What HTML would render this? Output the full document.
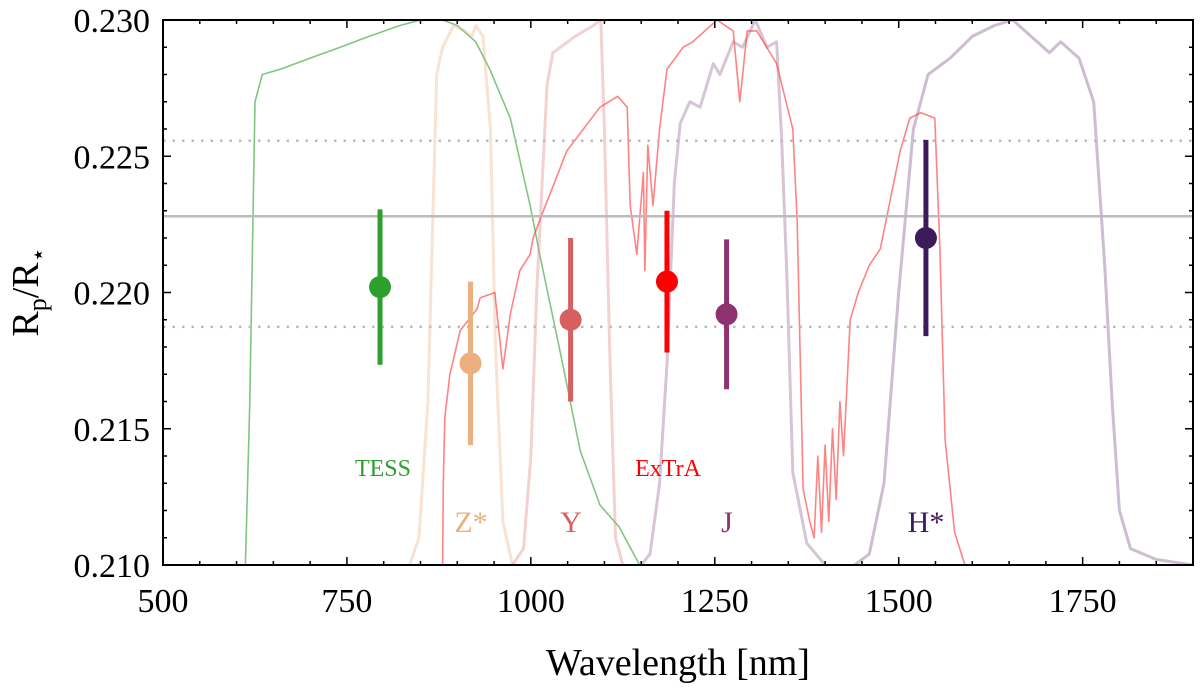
<!DOCTYPE html>
<html><head><meta charset="utf-8"><style>
body{margin:0;background:#fff}
svg{display:block;font-family:"Liberation Serif",serif}
</style></head><body>
<svg id="c" width="1200" height="695"></svg>
<script>
const bandNames=["TESS","Z*","Y","ExTrA","J","H*"];
const bandWl=[795,918,1054,1185,1266,1537];
const bandRp=[0.2202,0.2174,0.2190,0.2204,0.2192,0.2220];
const bandErr=[0.00285,0.0030,0.0030,0.0026,0.00275,0.0036];
const bandColors=["#2ca02c","#ebb07e","#d65f5f","#ff0000","#8e3370","#3d1a5c"];
const refLine=[0.2228];
const refBand=[0.21874,0.22557];
const xTicks=[500,750,1000,1250,1500,1750];
const yTicks=[0.210,0.215,0.220,0.225,0.230];
const tessWl=[612,618,625,635,660,700,741,780,822,850,880,900,925,944,972,999,1012,1040,1067,1094,1120,1148];
const tessT=[0,0.3,0.85,0.9,0.91,0.93,0.95,0.97,0.99,1.0,1.0,0.99,0.96,0.91,0.82,0.66,0.57,0.39,0.21,0.11,0.07,0.0];
const zWl=[835,848,860,872,880,895,910,920,925,935,945,952,962,975];
const zT=[0,0.05,0.3,0.9,0.95,0.99,0.98,0.97,0.99,0.97,0.8,0.4,0.08,0];
const yWl=[975,990,1000,1008,1022,1030,1040,1060,1085,1095,1100,1107,1115,1125];
const yT=[0,0.03,0.2,0.5,0.88,0.94,0.95,0.97,0.99,1,0.8,0.4,0.05,0];
const jWl=[1150,1162,1175,1185,1195,1203,1216,1230,1248,1257,1275,1288,1305,1321,1334,1341,1348,1356,1375,1400];
const jT=[0,0.02,0.15,0.37,0.7,0.81,0.85,0.84,0.92,0.9,0.96,0.95,1.0,0.95,0.96,0.78,0.53,0.17,0.04,0];
const hWl=[1440,1460,1480,1500,1520,1540,1570,1600,1630,1655,1680,1705,1720,1745,1765,1780,1790,1800,1815,1850,1900];
const hT=[0,0.02,0.15,0.5,0.8,0.9,0.93,0.97,0.99,1.0,0.97,0.94,0.96,0.93,0.85,0.55,0.3,0.1,0.03,0.01,0];
const exWl=[880,881,883,890,904,927,931,951,962,972,985,999,1003,1017,1049,1094,1118,1131,1135,1144,1153,1155,1159,1166,1175,1185,1207,1220,1253,1275,1284,1294,1307,1334,1356,1362,1370,1379,1385,1390,1395,1400,1405,1410,1415,1420,1425,1434,1445,1460,1475,1502,1515,1530,1549,1556,1563,1576,1590];
const exT=[0,0.15,0.27,0.35,0.43,0.47,0.49,0.5,0.36,0.46,0.54,0.57,0.6,0.65,0.76,0.84,0.86,0.84,0.66,0.57,0.72,0.54,0.77,0.66,0.8,0.91,0.95,0.96,1.0,0.98,0.85,0.98,0.98,0.92,0.8,0.63,0.14,0.08,0.05,0.2,0.06,0.22,0.08,0.25,0.12,0.3,0.2,0.45,0.5,0.55,0.58,0.76,0.82,0.83,0.82,0.58,0.23,0.06,0];
const filters=[[tessWl,tessT,"#2ca02c",0.6,"tess-filter"],[zWl,zT,"#ebb07e",0.35,"z-filter"],[yWl,yT,"#e38b8b",0.4,"y-filter"],[jWl,jT,"#a57fa2",0.45,"j-filter"],[hWl,hT,"#8e6c9a",0.45,"h-filter"],[exWl,exT,"#ff4040",0.65,"extra-filter"]];
const X0=163,X1=1193,Y0=20,Y1=565;
const xs=w=>X0+(w-500)/1400*(X1-X0);
const ys=v=>Y1-(v-0.210)/0.020*(Y1-Y0);
const ts=t=>Y1-t*(Y1-Y0);
const svg=document.getElementById('c');const NS="http://www.w3.org/2000/svg";
function mk(tag,at,txt){const e=document.createElementNS(NS,tag);for(const k in at)e.setAttribute(k,at[k]);if(txt!==undefined)e.textContent=txt;svg.appendChild(e);return e;}
const cp=mk('clipPath',{id:'cl'});const r=document.createElementNS(NS,'rect');r.setAttribute('x',X0);r.setAttribute('y',Y0);r.setAttribute('width',X1-X0);r.setAttribute('height',Y1-Y0);cp.appendChild(r);
filters.forEach(f=>{const d=f[0].map((w,i)=>(i?'L':'M')+xs(w).toFixed(1)+','+ts(f[1][i]).toFixed(1)).join('');
const p=mk('path',{d:d,fill:'none',stroke:f[2],'stroke-opacity':f[3],'stroke-width':f[4]==='extra-filter'||f[4]==='tess-filter'?1.6:3,'stroke-linejoin':'round','clip-path':'url(#cl)'});

});
const rl=mk('line',{x1:X0,x2:X1,y1:ys(refLine[0]),y2:ys(refLine[0]),stroke:'#bbb','stroke-width':2.5});


refBand.forEach(v=>{const l=mk('line',{x1:X0,x2:X1,y1:ys(v),y2:ys(v),stroke:'#bbb','stroke-width':2.5,'stroke-dasharray':'2.5,7'});

});
const labY=[476,532,532,476,532,532];
const labX=[383,471,571,668,727,926];
bandNames.forEach((n,i)=>{const x=xs(bandWl[i]);
const e=mk('line',{x1:x,x2:x,y1:ys(bandRp[i]+bandErr[i]),y2:ys(bandRp[i]-bandErr[i]),stroke:bandColors[i],'stroke-width':5});


const c=mk('circle',{cx:x,cy:ys(bandRp[i]),r:11,fill:bandColors[i]});


const t=mk('text',{x:labX[i],y:labY[i],'text-anchor':'middle','font-size':n.length>2?24:30,fill:bandColors[i]},n);

});
const fr=mk('rect',{x:X0,y:Y0,width:X1-X0,height:Y1-Y0,fill:'none',stroke:'#000','stroke-width':2});


for(let w=500;w<=1900;w+=50){const x=xs(w);const mj=xTicks.includes(w);mk('line',{x1:x,x2:x,y1:Y1,y2:Y1-(mj?8:4),stroke:'#000','stroke-width':1.5});mk('line',{x1:x,x2:x,y1:Y0,y2:Y0+(mj?8:4),stroke:'#000','stroke-width':1.5});}
xTicks.forEach(w=>{const t=mk('text',{x:xs(w),y:612,'text-anchor':'middle','font-size':34},w);

});
for(let v=0.210;v<=0.2301;v+=0.001){const y=ys(v);const mj=Math.abs(Math.round(v*200)-v*200)<1e-6;mk('line',{x1:X0,x2:X0+(mj?8:4),y1:y,y2:y,stroke:'#000','stroke-width':1.5});mk('line',{x1:X1,x2:X1-(mj?8:4),y1:y,y2:y,stroke:'#000','stroke-width':1.5});}
yTicks.forEach(v=>{const t=mk('text',{x:150,y:ys(v)+12,'text-anchor':'end','font-size':34},v.toFixed(3));

});
const xt=mk('text',{x:678,y:675,'text-anchor':'middle','font-size':38},'Wavelength [nm]');


const yt=mk('text',{transform:'translate(38,292) rotate(-90)','text-anchor':'middle','font-size':38});
yt.innerHTML='R<tspan font-size="26" dy="8">p</tspan><tspan dy="-8">/R</tspan><tspan font-size="24" dy="8">⋆</tspan>';


</script>
</body></html>
